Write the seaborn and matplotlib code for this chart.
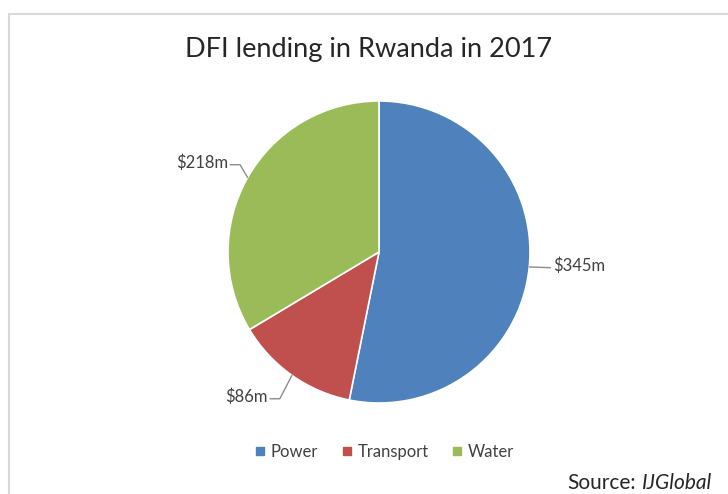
import numpy as np
import matplotlib
matplotlib.use("Agg")
import matplotlib.pyplot as plt
from matplotlib.lines import Line2D
from matplotlib.patches import Rectangle
import seaborn as sns

categories = ["Power", "Transport", "Water"]
values = [345, 86, 218]
labels = ["$345m", "$86m", "$218m"]
colors = ["#4F81BD", "#C0504D", "#9BBB59"]

sns.set_theme(style="white")
plt.rcParams['font.family'] = ['Lato', 'DejaVu Sans']

W, H = 728, 494
fig = plt.figure(figsize=(W / 100, H / 100), dpi=100)

# chart border
fig.add_artist(Rectangle((9 / W, -0.01), 1.0, (494 - 14) / H + 0.01, transform=fig.transFigure,
                         fill=False, edgecolor="#D9D9D9", linewidth=1.5))

cx, cy, r = 379, 252, 151
ax = fig.add_axes([(cx - r) / W, (H - cy - r) / H, 2 * r / W, 2 * r / H])
wedges, _ = ax.pie(values, colors=colors, startangle=90, counterclock=False, radius=1,
                   wedgeprops=dict(edgecolor="white", linewidth=1.2))
ax.set_xlim(-1, 1)
ax.set_ylim(-1, 1)
ax.set_aspect("auto")
ax.axis("off")

# label offsets from the slice edge (in pie radii): (dx, dy) of text anchor
label_offsets = [(0.16, 0.005), (-0.16, -0.14), (-0.13, 0.1)]
for w, lab, (dx, dy) in zip(wedges, labels, label_offsets):
    ang = np.deg2rad((w.theta1 + w.theta2) / 2)
    x0, y0 = np.cos(ang), np.sin(ang)
    tx, ty = x0 + dx, y0 + dy
    if dx > 0:
        ha = "left"
        xs = [x0, tx - 0.02]
        ys = [y0, ty - 0.01]
    else:
        ha = "right"
        xs = [x0, tx + 0.08, tx + 0.015]
        ys = [y0, ty - 0.015, ty - 0.015]
    ax.plot(xs, ys, color="#8C8C8C", linewidth=1.0, clip_on=False)
    ax.text(tx, ty, lab, ha=ha, va="center", fontsize=12, color="#404040", clip_on=False)

fig.text(369 / W, 1 - 50 / H, "DFI lending in Rwanda in 2017", ha="center", va="center",
         fontsize=19.5, color="#262626")

handles = [Line2D([0], [0], marker="s", linestyle="none", markersize=6,
                  markerfacecolor=c, markeredgecolor=c) for c in colors]
fig.legend(handles, categories, loc="center", bbox_to_anchor=(382 / W, 1 - 452 / H),
           ncol=3, frameon=False, fontsize=12, handletextpad=0.05, columnspacing=1.1,
           handlelength=1.2, labelcolor="#404040")

t1 = fig.text(567 / W, 1 - 483 / H, "Source:", ha="left", va="center", fontsize=15,
              color="#262626")
fig.canvas.draw()
bb = t1.get_window_extent()
fig.text((bb.x1 + 6) / W, 1 - 483 / H, "IJGlobal", ha="left", va="center", fontsize=15,
         color="#262626", style="italic")

fig.savefig("out.png", dpi=100, facecolor="white")
